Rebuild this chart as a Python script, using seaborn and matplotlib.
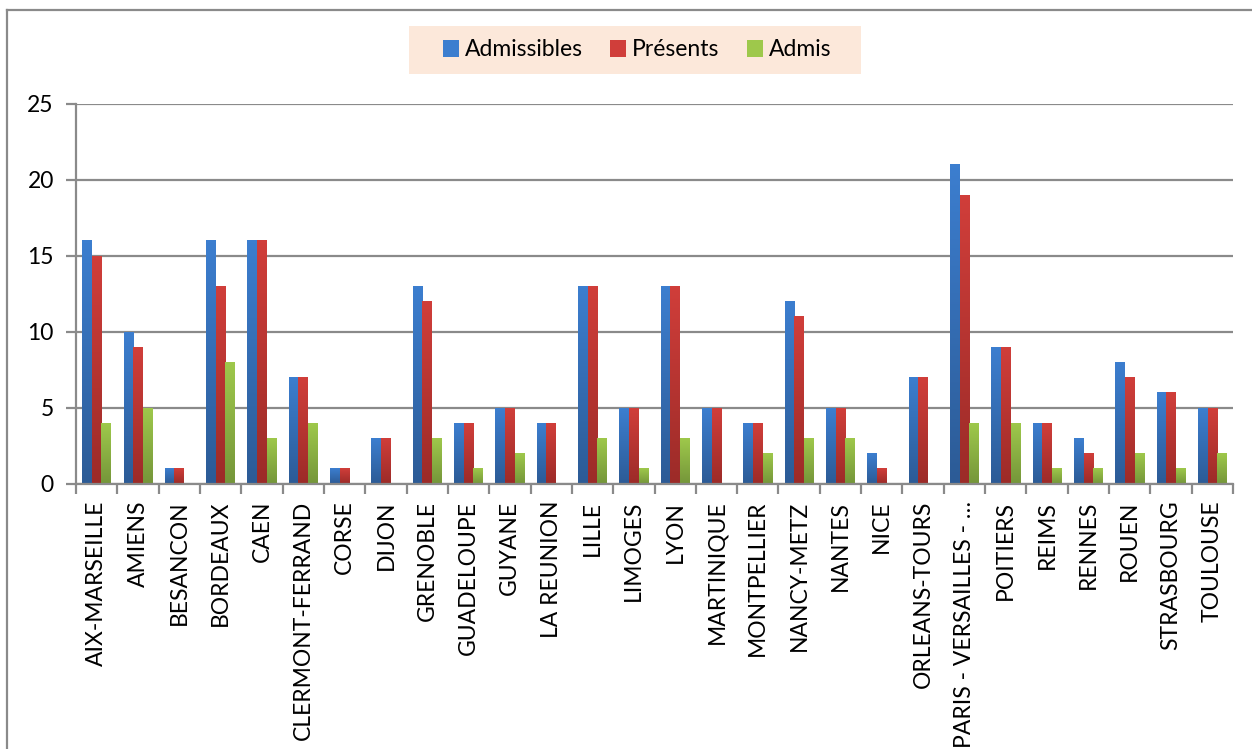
"""
Admissibles, presents et admis par academie - barres groupees.
"""

import matplotlib

matplotlib.use("Agg")
import matplotlib.pyplot as plt
import numpy as np
import pandas as pd
import seaborn as sns
from matplotlib.colors import LinearSegmentedColormap
from matplotlib.lines import Line2D
from matplotlib.patches import Patch, Rectangle

ACADEMIES = [
    "AIX-MARSEILLE", "AMIENS", "BESANCON", "BORDEAUX", "CAEN",
    "CLERMONT-FERRAND", "CORSE", "DIJON", "GRENOBLE", "GUADELOUPE",
    "GUYANE", "LA REUNION", "LILLE", "LIMOGES", "LYON", "MARTINIQUE",
    "MONTPELLIER", "NANCY-METZ", "NANTES", "NICE", "ORLEANS-TOURS",
    "PARIS - VERSAILLES - …", "POITIERS", "REIMS", "RENNES", "ROUEN",
    "STRASBOURG", "TOULOUSE",
]
ADMISSIBLES = [16, 10, 1, 16, 16, 7, 1, 3, 13, 4, 5, 4, 13, 5, 13, 5,
               4, 12, 5, 2, 7, 21, 9, 4, 3, 8, 6, 5]
PRESENTS = [15, 9, 1, 13, 16, 7, 1, 3, 12, 4, 5, 4, 13, 5, 13, 5,
            4, 11, 5, 1, 7, 19, 9, 4, 2, 7, 6, 5]
ADMIS = [4, 5, 0, 8, 3, 4, 0, 0, 3, 1, 2, 0, 3, 1, 3, 0,
         2, 3, 3, 0, 0, 4, 4, 1, 1, 2, 1, 2]
SERIES = ["Admissibles", "Présents", "Admis"]

# couleur haut / bas du degrade de chaque serie
DEGRADES = {
    "Admissibles": ("#3c7ecf", "#2c5b96"),
    "Présents": ("#d03e3a", "#9c2b28"),
    "Admis": ("#9ec84b", "#75963a"),
}
GRIS = "#8a8a8a"
TAILLE = 16.5

plt.rcParams["font.family"] = ["Lato", "DejaVu Sans"]

W, H = 1252, 749
fig = plt.figure(figsize=(W / 100, H / 100), dpi=100)
ax = fig.add_axes([76 / W, 1 - 484 / H, (1233 - 76) / W, (484 - 104) / H])

datos = pd.DataFrame(
    {
        "academie": ACADEMIES * 3,
        "serie": np.repeat(SERIES, len(ACADEMIES)),
        "valeur": ADMISSIBLES + PRESENTS + ADMIS,
    }
)

sns.barplot(
    data=datos,
    x="academie",
    y="valeur",
    hue="serie",
    hue_order=SERIES,
    order=ACADEMIES,
    palette={s: DEGRADES[s][0] for s in SERIES},
    width=0.7,
    saturation=1,
    errorbar=None,
    legend=False,
    ax=ax,
    zorder=3,
)

# degrade vertical sur chaque barre
n = len(ACADEMIES)
for i, barre in enumerate(ax.patches[: 3 * n]):
    serie = SERIES[i // n]
    haut, bas = DEGRADES[serie]
    h = barre.get_height()
    if h <= 0:
        continue
    x0 = barre.get_x()
    w = barre.get_width()
    cmap = LinearSegmentedColormap.from_list(serie, [bas, haut])
    grad = np.linspace(1, 0, 64).reshape(-1, 1)
    ax.imshow(grad, cmap=cmap, extent=(x0, x0 + w, 0, h),
              aspect="auto", zorder=3.5, interpolation="bilinear")
    barre.set_alpha(0)

ax.set_xlim(-0.5, n - 0.5)
ax.set_ylim(0, 25)
ax.set_yticks(range(0, 26, 5))
ax.yaxis.grid(True, color=GRIS, linewidth=1.6, zorder=0)
ax.set_axisbelow(True)
ax.set_xlabel("")
ax.set_ylabel("")

for cote in ["top", "right"]:
    ax.spines[cote].set_visible(False)
for cote in ["left", "bottom"]:
    ax.spines[cote].set_color(GRIS)
    ax.spines[cote].set_linewidth(1.6)
    ax.spines[cote].set_zorder(4)

ax.set_xticks(np.arange(-0.5, n, 1.0), minor=True)
ax.tick_params(axis="x", which="minor", length=7, width=1.6, color=GRIS)
ax.tick_params(axis="x", which="major", length=0, pad=12,
               labelsize=TAILLE)
ax.tick_params(axis="y", length=7, width=1.6, color=GRIS, pad=9,
               labelsize=TAILLE)
plt.setp(ax.get_xticklabels(), rotation=90, ha="center", va="top")

# fond de la legende, dessine a part pour regler les marges
fig.add_artist(Rectangle((409 / W, 1 - 74 / H), 452 / W, 48 / H,
                         transform=fig.transFigure, facecolor="#fce8da",
                         edgecolor="none", zorder=1))

poignees = [
    Patch(facecolor=DEGRADES[s][0], edgecolor="none", label=s)
    for s in SERIES
]
leg = fig.legend(
    handles=poignees,
    loc="center",
    bbox_to_anchor=(637 / W, 1 - 50 / H),
    ncol=3,
    fontsize=TAILLE,
    frameon=False,
    handlelength=0.7,
    handleheight=0.7,
    handletextpad=0.25,
    columnspacing=1.2,
)
leg.set_zorder(2)

# cadre exterieur du graphique
x_cadre = 7 / W
y_cadre = 1 - 10 / H
fig.add_artist(Line2D([x_cadre, x_cadre], [0, y_cadre], color=GRIS,
                      linewidth=1.6, transform=fig.transFigure))
fig.add_artist(Line2D([x_cadre, 1], [y_cadre, y_cadre], color=GRIS,
                      linewidth=1.6, transform=fig.transFigure))

fig.savefig("out.png", dpi=100)
